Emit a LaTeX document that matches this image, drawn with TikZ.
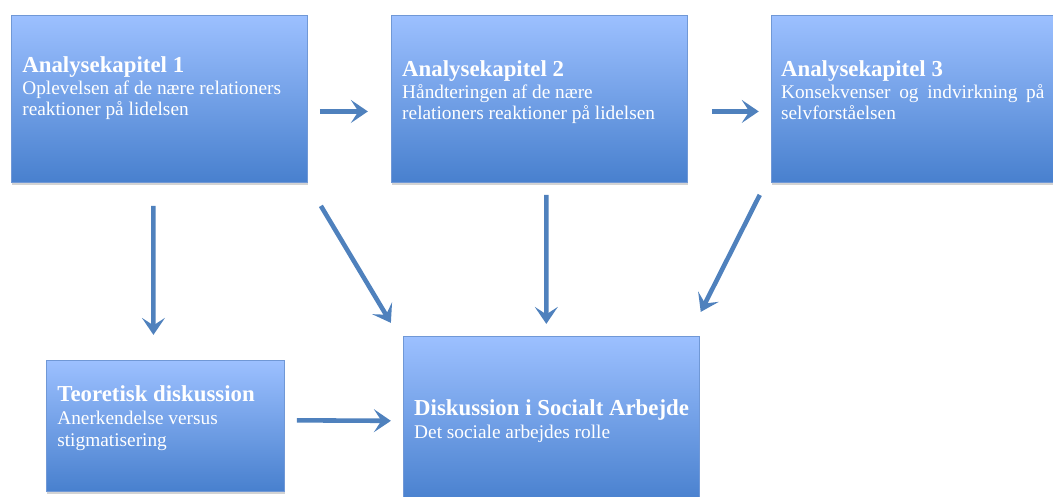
\documentclass[tikz,border=0pt]{standalone}
\usepackage{fontspec}
\setmainfont{Liberation Serif}
\usetikzlibrary{arrows.meta, positioning, calc, shadows}
\definecolor{boxtop}{RGB}{156,192,255}
\definecolor{boxbottom}{RGB}{72,128,206}
\definecolor{boxline}{RGB}{112,152,214}
\definecolor{arrowblue}{RGB}{79,129,189}
\newlength{\blockwidth}
\setlength{\blockwidth}{5.92cm}
\newlength{\blockheight}
\setlength{\blockheight}{3.34cm}
\newlength{\hgap}
\setlength{\hgap}{1.66cm}
\tikzstyle{block} = [rectangle, draw=boxline, line width=0.5pt, top color=boxtop, bottom color=boxbottom, minimum width=\blockwidth, minimum height=\blockheight, inner sep=0pt, drop shadow={shadow xshift=0.4pt, shadow yshift=-1.3pt, opacity=0.35}]
\tikzstyle{smallblock} = [block, minimum width=4.76cm, minimum height=2.62cm]
\tikzstyle{heading} = [anchor=base west, inner sep=0pt, text=white, font=\fontsize{13}{14}\selectfont\bfseries]
\tikzstyle{body} = [anchor=north west, inner sep=0pt, text=white, align=left, font=\fontsize{11}{12}\selectfont]
\tikzstyle{arrow} = [line width=2.6pt, draw=arrowblue, -{Stealth[length=0.34cm, width=0.46cm, inset=0.15cm]}]

\begin{document}
\begin{tikzpicture}[node distance=\hgap]

    \useasboundingbox (0,0) rectangle (21.06,-9.92);
    \clip (0,0) rectangle (21.06,-9.92);

    % Analysis chapters
    \node (ana1) [block, anchor=north west] at (0.22,-0.30) {};
    \node (ana2) [block, right=of ana1] {};
    \node (ana3) [block, right=of ana2] {};

    % Discussions
    \node (theory) [smallblock, below=3.54cm of ana1.south west, anchor=north west, xshift=0.70cm] {};
    \node (social) [block, below=3.06cm of ana2.south west, anchor=north west, xshift=0.24cm] {};

    % ==== Texts
    \node (ana1_title) [heading] at ($(ana1.north west)+(0.22,-1.14)$) {Analysekapitel 1};
    \node (ana1_text) [body] at ($(ana1_title.base west)+(0,-0.144)$) {\strut Oplevelsen af de nære relationers\\reaktioner på lidelsen};

    \node (ana2_title) [heading] at ($(ana2.north west)+(0.22,-1.22)$) {Analysekapitel 2};
    \node (ana2_text) [body] at ($(ana2_title.base west)+(0,-0.144)$) {\strut Håndteringen af de nære\\relationers reaktioner på lidelsen};

    \node (ana3_title) [heading] at ($(ana3.north west)+(0.20,-1.22)$) {Analysekapitel 3};
    \node (ana3_text) [body] at ($(ana3_title.base west)+(0,-0.144)$) {\strut Konsekvenser\hspace{0.45em}og\hspace{0.45em}indvirkning\hspace{0.45em}på\\selvforståelsen};

    \node (theory_title) [heading] at ($(theory.north west)+(0.22,-0.84)$) {Teoretisk diskussion};
    \node (theory_text) [body] at ($(theory_title.base west)+(0,-0.16)$) {\strut Anerkendelse versus\\stigmatisering};

    \node (social_title) [heading] at ($(social.north west)+(0.22,-1.60)$) {Diskussion i Socialt Arbejde};
    \node (social_text) [body] at ($(social_title.base west)+(0,-0.16)$) {\strut Det sociale arbejdes rolle};

    % ==== Arrows
    % Between chapters
    \draw [arrow] ($(ana1.east)+(0.24,-0.25)$) -- ($(ana2.west)+(-0.46,-0.25)$);
    \draw [arrow] ($(ana2.east)+(0.48,-0.25)$) -- ($(ana3.west)+(-0.24,-0.25)$);

    % Down to the discussions
    \draw [arrow] ($(ana1.south)+(-0.12,-0.46)$) -- ($(theory.north)+(-0.24,0.50)$);
    \draw [arrow] ($(ana1.south east)+(0.26,-0.46)$) -- ($(social.north west)+(-0.24,0.26)$);
    \draw [arrow] ($(ana2.south)+(0.14,-0.24)$) -- ($(social.north)+(-0.10,0.24)$);
    \draw [arrow] ($(ana3.south west)+(-0.22,-0.24)$) -- ($(social.north east)+(0.02,0.48)$);
    \draw [arrow] ($(theory.east)+(0.24,0.11)$) -- ($(social.west)+(-0.24,-0.02)$);

\end{tikzpicture}
\end{document}
